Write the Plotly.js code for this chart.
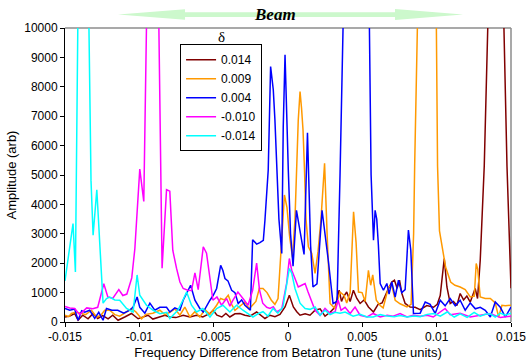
<!DOCTYPE html>
<html>
<head>
<meta charset="utf-8">
<script src="https://cdn.plot.ly/plotly-3.0.1.min.js"></script>
<style>html,body{margin:0;padding:0;background:#fff;}#chart{width:526px;height:363px;}</style>
</head>
<body>
<div id="chart"></div>
<script>
// Frequency difference from betatron tune (tune units) and amplitude (arb) per delta
const seriesNames = ["0.014", "0.009", "0.004", "-0.010", "-0.014"];

const freq014 = [-0.0150, -0.01468, -0.01435, -0.01412, -0.01381, -0.01345, -0.01311, -0.0128, -0.01246, -0.0121, -0.01179, -0.01143, -0.01098, -0.01053, -0.01008, -0.00977, -0.00941, -0.00909, -0.00862, -0.00828, -0.00795, -0.00754, -0.00705, -0.0066, -0.00615, -0.00573, -0.00525, -0.00503, -0.00478, -0.00445, -0.00418, -0.00391, -0.00357, -0.00323, -0.0029, -0.00256, -0.00211, -0.00182, -0.00155, -0.00121, -0.00088, -0.00054, -0.0002, 0.00009, 0.00036, 0.00059, 0.00081, 0.00115, 0.00148, 0.00182, 0.00216, 0.00249, 0.00283, 0.00317, 0.00344, 0.0036, 0.00372, 0.00395, 0.00418, 0.0044, 0.00463, 0.00485, 0.00512, 0.00541, 0.00575, 0.00606, 0.00633, 0.00665, 0.00698, 0.00716, 0.00734, 0.0075, 0.00766, 0.00788, 0.00822, 0.00855, 0.00889, 0.00934, 0.00979, 0.01004, 0.01024, 0.01051, 0.01069, 0.01091, 0.01113, 0.01136, 0.01158, 0.01181, 0.01203, 0.01226, 0.01248, 0.01259, 0.01275, 0.01293, 0.0132, 0.01354, 0.01394, 0.01435, 0.01473, 0.0150];
const amp014 = [170, 200, 290, 60, 230, 110, 290, 120, 220, 110, 230, 60, 170, 290, 110, 170, 230, 100, 170, 230, 170, 150, 230, 170, 230, 170, 290, 400, 230, 170, 290, 170, 280, 290, 230, 200, 340, 230, 120, 230, 180, 260, 510, 910, 510, 350, 230, 280, 230, 400, 450, 200, 330, 510, 1080, 700, 850, 1020, 700, 1080, 800, 630, 750, 510, 340, 600, 650, 1020, 1360, 1420, 1150, 1420, 970, 630, 510, 500, 420, 560, 500, 600, 900, 2160, 1190, 630, 700, 560, 970, 750, 880, 680, 970, 1140, 800, 2100, 5300, 14000, 20000, 14000, 5300, 1150];

const freq009 = [-0.0150, -0.01475, -0.01457, -0.01428, -0.0139, -0.01361, -0.01322, -0.01288, -0.0126, -0.01233, -0.01199, -0.01165, -0.01132, -0.01086, -0.01053, -0.01024, -0.00985, -0.00956, -0.00909, -0.00862, -0.00828, -0.00795, -0.00761, -0.00727, -0.00694, -0.0066, -0.00626, -0.00593, -0.00559, -0.00525, -0.0048, -0.00453, -0.00428, -0.00402, -0.00379, -0.00357, -0.00323, -0.0029, -0.00261, -0.00236, -0.00216, -0.00193, -0.00168, -0.00141, -0.00112, -0.00088, -0.00067, -0.00044, -0.00024, -0.00007, 0.00011, 0.0003, 0.00047, 0.00069, 0.00081, 0.00091, 0.00101, 0.00111, 0.00121, 0.00137, 0.0016, 0.00182, 0.00202, 0.00222, 0.00246, 0.00263, 0.00283, 0.00317, 0.0035, 0.00377, 0.00395, 0.00418, 0.00441, 0.00458, 0.00474, 0.00498, 0.00519, 0.00541, 0.00556, 0.0057, 0.00594, 0.0062, 0.0064, 0.00676, 0.00698, 0.00721, 0.00754, 0.008, 0.00828, 0.00845, 0.00852, 0.00882, 0.00923, 0.00977, 0.00993, 0.01006, 0.01019, 0.01039, 0.0106, 0.01094, 0.01123, 0.01158, 0.01192, 0.01226, 0.01253, 0.01266, 0.01276, 0.01293, 0.01327, 0.01361, 0.01394, 0.01417, 0.01439, 0.01462, 0.0150];
const amp009 = [230, 180, 290, 330, 300, 250, 400, 170, 220, 400, 400, 250, 200, 340, 450, 350, 110, 260, 300, 400, 250, 330, 450, 230, 510, 170, 350, 170, 420, 260, 570, 800, 750, 910, 600, 400, 550, 680, 450, 600, 700, 1140, 1140, 1000, 740, 600, 800, 2670, 4320, 3900, 2900, 2200, 3500, 6870, 7840, 7280, 6530, 5170, 3500, 2560, 2330, 1650, 2400, 3500, 5400, 3000, 630, 450, 1020, 900, 650, 1000, 3750, 2700, 1020, 1000, 700, 1760, 1250, 1600, 740, 560, 480, 1190, 1250, 740, 620, 510, 600, 3000, 5300, 13000, 20000, 20000, 13000, 5300, 3100, 2470, 1870, 1360, 1250, 1190, 1100, 850, 880, 1990, 1800, 850, 800, 800, 650, 170, 570, 550, 570];

const freq004 = [-0.0150, -0.01468, -0.01435, -0.01412, -0.01388, -0.01367, -0.01334, -0.013, -0.01273, -0.01244, -0.01221, -0.01185, -0.01145, -0.01105, -0.01064, -0.01042, -0.01015, -0.00997, -0.00963, -0.00929, -0.00896, -0.00862, -0.00817, -0.00795, -0.00761, -0.00727, -0.00705, -0.00678, -0.00655, -0.00626, -0.00593, -0.0057, -0.00548, -0.00525, -0.00503, -0.0048, -0.00453, -0.00438, -0.00424, -0.00404, -0.00379, -0.00357, -0.00335, -0.00312, -0.0029, -0.00267, -0.00253, -0.00238, -0.00211, -0.00189, -0.00166, -0.00155, -0.00133, -0.00117, -0.00099, -0.00088, -0.00076, -0.00061, -0.00042, -0.00032, -0.0002, -0.00009, 0.00002, 0.00017, 0.00034, 0.00057, 0.00074, 0.00091, 0.00108, 0.00131, 0.00152, 0.00168, 0.00195, 0.00229, 0.00249, 0.00271, 0.00303, 0.0033, 0.0035, 0.00374, 0.00431, 0.00498, 0.00525, 0.00559, 0.00575, 0.00586, 0.00597, 0.00608, 0.0062, 0.00642, 0.00665, 0.0068, 0.00698, 0.00721, 0.00743, 0.00765, 0.00788, 0.0081, 0.00826, 0.00844, 0.00889, 0.00923, 0.00956, 0.0099, 0.01024, 0.01057, 0.01091, 0.01125, 0.01158, 0.01192, 0.01226, 0.0126, 0.01293, 0.01327, 0.01361, 0.01394, 0.01428, 0.01462, 0.0150];
const amp004 = [460, 400, 440, 60, 380, 330, 400, 120, 330, 60, 460, 400, 400, 300, 400, 510, 850, 500, 300, 640, 400, 500, 500, 340, 480, 400, 740, 1020, 1250, 740, 460, 340, 560, 740, 910, 1140, 1930, 1750, 1480, 1400, 1080, 1000, 630, 750, 570, 480, 400, 2800, 2650, 2700, 2780, 3470, 5170, 8690, 7900, 6870, 5170, 3500, 2330, 6630, 9090, 6870, 5170, 3000, 1900, 3800, 3300, 2900, 2300, 6440, 2600, 1190, 1300, 3800, 3000, 2100, 630, 700, 5000, 13000, 25000, 25000, 20000, 5000, 2780, 3800, 3500, 2610, 1310, 1080, 1310, 950, 1360, 850, 1420, 1000, 1100, 3130, 2440, 290, 300, 680, 600, 290, 740, 550, 800, 550, 740, 400, 650, 450, 500, 400, 170, 680, 500, 170, 510];

const freqM010 = [-0.0150, -0.01468, -0.01435, -0.01401, -0.01354, -0.01313, -0.0128, -0.01239, -0.01212, -0.01179, -0.01138, -0.01111, -0.01084, -0.01051, -0.0103, -0.01014, -0.00997, -0.0097, -0.00943, -0.00916, -0.00879, -0.00847, -0.00817, -0.00795, -0.00775, -0.0075, -0.00727, -0.00705, -0.00674, -0.00649, -0.00626, -0.00604, -0.0057, -0.00548, -0.00525, -0.00505, -0.00478, -0.00447, -0.00413, -0.00391, -0.0037, -0.00337, -0.00303, -0.00269, -0.00238, -0.00211, -0.00192, -0.0017, -0.00143, -0.00121, -0.00099, -0.00076, -0.00042, -0.00009, 0.00009, 0.00025, 0.00047, 0.00069, 0.00092, 0.00115, 0.00135, 0.0016, 0.00182, 0.00216, 0.00249, 0.00283, 0.00317, 0.00337, 0.00357, 0.00384, 0.00418, 0.00451, 0.00485, 0.00532, 0.00573, 0.0062, 0.00667, 0.00707, 0.00754, 0.00801, 0.00842, 0.00889, 0.00936, 0.00977, 0.01024, 0.01057, 0.01091, 0.01158, 0.01226, 0.01293, 0.01361, 0.01428, 0.0150];
const ampM010 = [530, 480, 460, 250, 480, 450, 500, 1300, 850, 800, 1100, 900, 950, 1500, 2500, 4000, 5200, 4100, 13000, 15000, 14000, 1830, 4500, 4450, 2440, 1830, 1360, 1140, 1080, 1070, 1670, 1100, 2560, 2340, 1420, 740, 850, 570, 800, 540, 740, 1020, 800, 570, 1080, 2000, 1100, 640, 500, 460, 520, 340, 450, 1320, 2160, 1760, 1480, 1190, 1250, 1310, 1020, 650, 400, 230, 460, 300, 350, 740, 400, 500, 290, 510, 230, 170, 290, 170, 230, 200, 290, 170, 230, 200, 230, 170, 340, 460, 250, 300, 170, 230, 290, 150, 200];

const freqM014 = [-0.0150, -0.01446, -0.0143, -0.0140, -0.0137, -0.01355, -0.01325, -0.01311, -0.01286, -0.01244, -0.01221, -0.01199, -0.01165, -0.01132, -0.01086, -0.01042, -0.01015, -0.00997, -0.00952, -0.00907, -0.00862, -0.00815, -0.00795, -0.00741, -0.00707, -0.00682, -0.00649, -0.00615, -0.00573, -0.00525, -0.0048, -0.00438, -0.00391, -0.00346, -0.00303, -0.00268, -0.00236, -0.00202, -0.00168, -0.00135, -0.00101, -0.00068, -0.00034, 0.00009, 0.00025, 0.00047, 0.00081, 0.00115, 0.00148, 0.00182, 0.00216, 0.00249, 0.00283, 0.00317, 0.0035, 0.00384, 0.00438, 0.00485, 0.00532, 0.00573, 0.0062, 0.00667, 0.00714, 0.00754, 0.00801, 0.00848, 0.00889, 0.00936, 0.00983, 0.01024, 0.01071, 0.01118, 0.01158, 0.01205, 0.01252, 0.01293, 0.01327, 0.01361, 0.01394, 0.01428, 0.01462, 0.0150];
const ampM014 = [1400, 3350, 1700, 17200, 20000, 16000, 4800, 2950, 4500, 640, 800, 850, 750, 740, 460, 340, 1600, 910, 570, 400, 280, 330, 120, 400, 740, 1020, 570, 340, 460, 170, 460, 570, 340, 570, 400, 290, 170, 280, 350, 200, 460, 300, 510, 1820, 1660, 1140, 640, 460, 430, 510, 230, 400, 250, 330, 300, 340, 200, 260, 170, 170, 250, 200, 180, 220, 170, 200, 180, 260, 290, 200, 340, 170, 280, 160, 330, 200, 260, 280, 170, 300, 230, 300];

const xTickVals = [-0.015, -0.01, -0.005, 0, 0.005, 0.01, 0.015];
const xTickText = ["-0.015", "-0.01", "-0.005", "0", "0.005", "0.01", "0.015"];
const yTickVals = [0, 1000, 2000, 3000, 4000, 5000, 6000, 7000, 8000, 9000, 10000];
const yTickText = ["0", "1000", "2000", "3000", "4000", "5000", "6000", "7000", "8000", "9000", "10000"];

const seriesX = [freq014, freq009, freq004, freqM010, freqM014];
const seriesY = [amp014, amp009, amp004, ampM010, ampM014];
const seriesColors = ["#800000", "#FF9900", "#0000FF", "#FF00FF", "#00FFFF"];

seriesX.forEach((xs, i) => {
  if (xs.length !== seriesY[i].length) {
    throw new Error("length mismatch in series " + seriesNames[i] + ": " + xs.length + " vs " + seriesY[i].length);
  }
});

const traces = seriesNames.map((name, i) => ({
  type: "scatter",
  mode: "lines",
  name: name,
  x: seriesX[i],
  y: seriesY[i],
  line: { color: seriesColors[i], width: 1.5 },
  hoverinfo: "skip"
}));

const font = "Liberation Sans, Arial, sans-serif";
const layout = {
  width: 526,
  height: 363,
  margin: { l: 65, r: 15, t: 28, b: 41, pad: 0 },
  paper_bgcolor: "#fff",
  plot_bgcolor: "#fff",
  font: { family: font, size: 12, color: "#000" },
  showlegend: true,
  legend: {
    x: 0.258, y: 0.945, xanchor: "left", yanchor: "top",
    bgcolor: "#fff", bordercolor: "#000", borderwidth: 1,
    font: { family: font, size: 12, color: "#000" },
    itemwidth: 30, tracegroupgap: 0
  },
  xaxis: {
    range: [-0.01500001, 0.01500001],
    tickvals: xTickVals, ticktext: xTickText,
    ticks: "outside", ticklen: 4, tickcolor: "#000", tickwidth: 1,
    ticklabeloverflow: "allow",
    showline: true, linecolor: "#000", linewidth: 1,
    showgrid: false, zeroline: false,
    tickfont: { family: font, size: 12, color: "#000" },
    title: { text: "Frequency Difference from Betatron Tune (tune units)", font: { family: font, size: 13, color: "#000" }, standoff: 4 }
  },
  yaxis: {
    range: [0, 10000],
    tickvals: yTickVals, ticktext: yTickText,
    ticks: "outside", ticklen: 4, tickcolor: "#000", tickwidth: 1,
    showline: true, linecolor: "#000", linewidth: 1,
    showgrid: false, zeroline: false,
    tickfont: { family: font, size: 12, color: "#000" },
    title: { text: "Amplitude (arb)", font: { family: font, size: 13, color: "#000" }, standoff: 4 }
  },
  shapes: [
    { type: "line", xref: "paper", yref: "paper", x0: 0, x1: 1, y0: 1, y1: 1, line: { color: "#8c8c8c", width: 1.5 }, layer: "below" },
    { type: "line", xref: "paper", yref: "paper", x0: 1, x1: 1, y0: 0, y1: 1, line: { color: "#8c8c8c", width: 1.5 }, layer: "below" },
    { type: "path", xref: "paper", yref: "paper",
      path: "M 0.1188 1.0459 L 0.2691 1.0636 L 0.2691 1.0534 L 0.7399 1.0534 L 0.7399 1.0646 L 0.8924 1.0459 L 0.7399 1.0272 L 0.7399 1.0374 L 0.2691 1.0374 L 0.2691 1.0282 Z",
      fillcolor: "#ccf8cc", line: { width: 0 }, layer: "above" }
  ],
  annotations: [
    { text: "<b><i>Beam</i></b>", xref: "paper", yref: "paper", x: 0.471, y: 1.0476, xanchor: "center", yanchor: "middle", showarrow: false,
      font: { family: "Liberation Serif, Times New Roman, serif", size: 17, color: "#000" } },
    { text: "δ", xref: "paper", yref: "paper", x: 0.352, y: 0.969, xanchor: "center", yanchor: "middle", showarrow: false,
      font: { family: "Liberation Serif, Times New Roman, serif", size: 15, color: "#000" } }
  ]
};

Plotly.newPlot("chart", traces, layout, { staticPlot: true, displayModeBar: false });
</script>
</body>
</html>
